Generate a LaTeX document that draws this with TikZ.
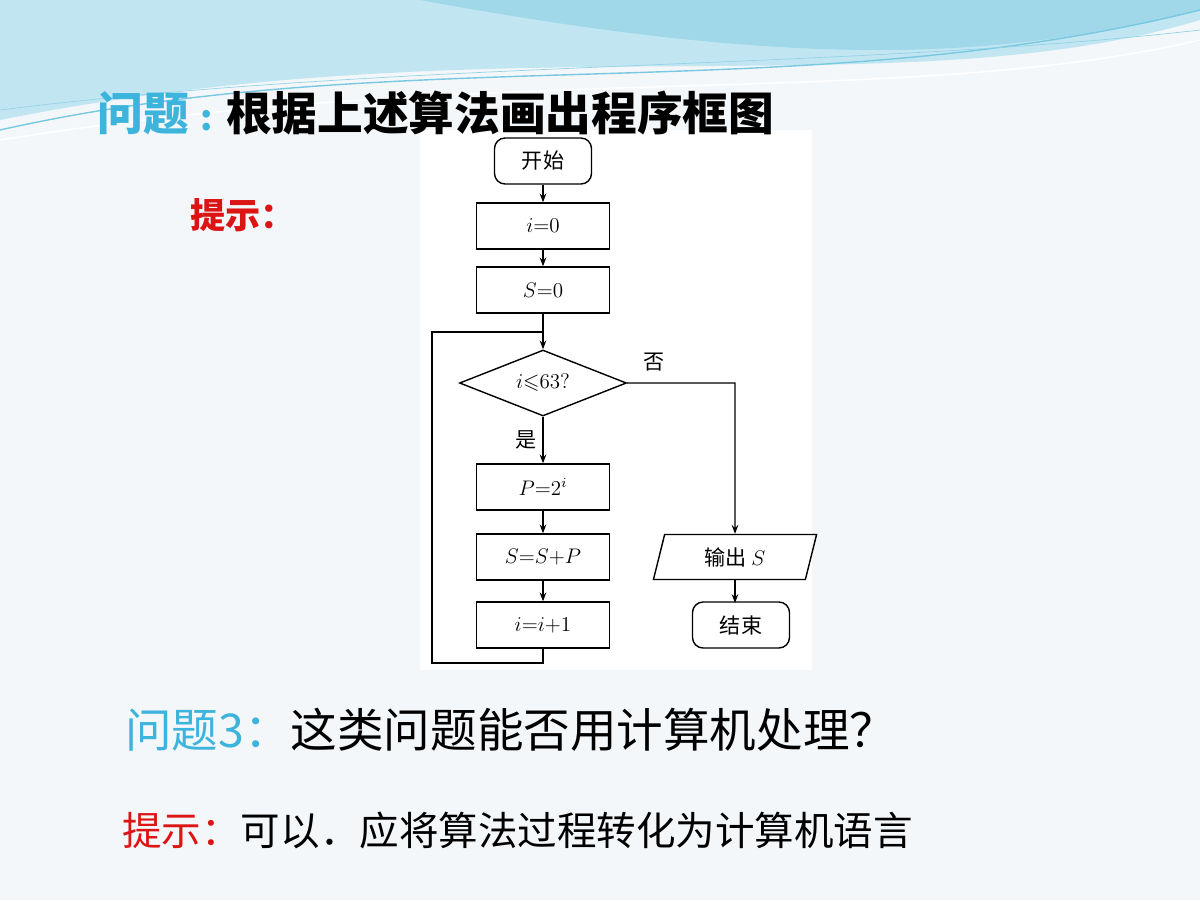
\documentclass[tikz,border=0pt]{standalone}
\usepackage{fontspec}
\usepackage{amsmath,amssymb}
\newfontfamily\cjk{Noto Sans CJK SC}
\usetikzlibrary{shapes.geometric,arrows.meta,positioning}
\definecolor{titlecyan}{RGB}{60,180,220}
\definecolor{hintred}{RGB}{220,20,20}
\definecolor{bgpale}{RGB}{244,247,250}
\definecolor{wave}{RGB}{120,200,225}
\tikzset{
  proc/.style={draw,thick,minimum width=2.66cm,minimum height=0.92cm,inner sep=0pt,font=\cjk\fontsize{12}{14}\selectfont},
  term/.style={proc,rounded corners=6pt,minimum width=1.94cm},
  decide/.style={draw,thick,diamond,aspect=2.5,minimum width=3.34cm,minimum height=1.32cm,inner sep=0pt,font=\cjk\fontsize{12}{14}\selectfont},
  io/.style={draw,thick,trapezium,trapezium left angle=76,trapezium right angle=104,minimum width=2.2cm,minimum height=0.9cm,inner sep=0pt,font=\cjk\fontsize{12}{14}\selectfont},
  flow/.style={thick,-{Stealth[length=5pt]}},
  lbl/.style={font=\cjk\fontsize{12}{14}\selectfont}
}
\begin{document}
\begin{tikzpicture}[x=0.02cm,y=-0.02cm]
\useasboundingbox (0,0) rectangle (1200,900);
\fill[bgpale] (0,0) rectangle (1200,900);
% waves at the top
\fill[wave!45] (0,0) -- (1200,0) -- (1200,20) .. controls (900,110) and (500,20) .. (0,120) -- cycle;
\fill[wave!70] (420,0) -- (1200,0) -- (1200,10) .. controls (1000,60) and (800,70) .. (420,0) -- cycle;
\draw[wave,thick] (0,130) .. controls (400,40) and (800,110) .. (1200,10);
\draw[wave!80,thin] (0,110) .. controls (400,60) and (850,70) .. (1200,30);
\draw[white,thick] (0,140) .. controls (500,60) and (900,110) .. (1200,40);
\fill[white] (420,130) rectangle (812,670);
% titles
\node[font=\cjk\bfseries\fontsize{26}{30}\selectfont,anchor=west,inner sep=0pt] (qtitle) at (97,113)
  {\textcolor{titlecyan}{问题}\hspace{0.25em}\textcolor{titlecyan}{\fontsize{20}{22}\selectfont:}\hspace{0.3em}根据上述算法画出程序框图};
\node[font=\cjk\bfseries\fontsize{20}{22}\selectfont,text=hintred,anchor=west,inner sep=0pt] (hint) at (190,215) {提示：};
% flowchart
\node[term] (start) at (543,161) {开始};
\node[proc] (init1) at (543,226) {$i{=}0$};
\node[proc] (init2) at (543,290) {$S{=}0$};
\node[decide] (test) at (543,383) {$i{\leqslant}63?$};
\node[proc] (pow) at (543,487) {$P{=}2^{i}$};
\node[proc] (acc) at (543,557) {$S{=}S{+}P$};
\node[proc] (inc) at (543,625) {$i{=}i{+}1$};
\node[io] (out) at (735,557) {输出 $S$};
\node[term] (stop) at (741,625) {结束};
\coordinate (join) at (543,332);
\draw[flow] (start) -- (init1);
\draw[flow] (init1) -- (init2);
\draw[flow] (init2) -- (test);
\draw[flow] (test) -- node[pos=0.5,left,lbl] {是} (pow);
\draw[flow] (pow) -- (acc);
\draw[flow] (acc) -- (inc);
\draw[thick] (inc.south) -- (543,663) -| (432,332) -- (join);
\draw[flow] (test.east) -- node[above,pos=0.25,lbl,yshift=3pt] {否} (735,383) -- (out.north);
\draw[flow] (735,580) -- (735,603);
% bottom texts
\node[font=\cjk\fontsize{26.5}{30}\selectfont,anchor=west,inner sep=0pt] (q3) at (125,730)
  {\textcolor{titlecyan}{问题3：}这类问题能否用计算机处理？};
\node[font=\cjk\fontsize{22.5}{26}\selectfont,anchor=west,inner sep=0pt] (hint2) at (122,830)
  {\textcolor{hintred}{提示：}可以．应将算法过程转化为计算机语言};
\end{tikzpicture}
\end{document}
